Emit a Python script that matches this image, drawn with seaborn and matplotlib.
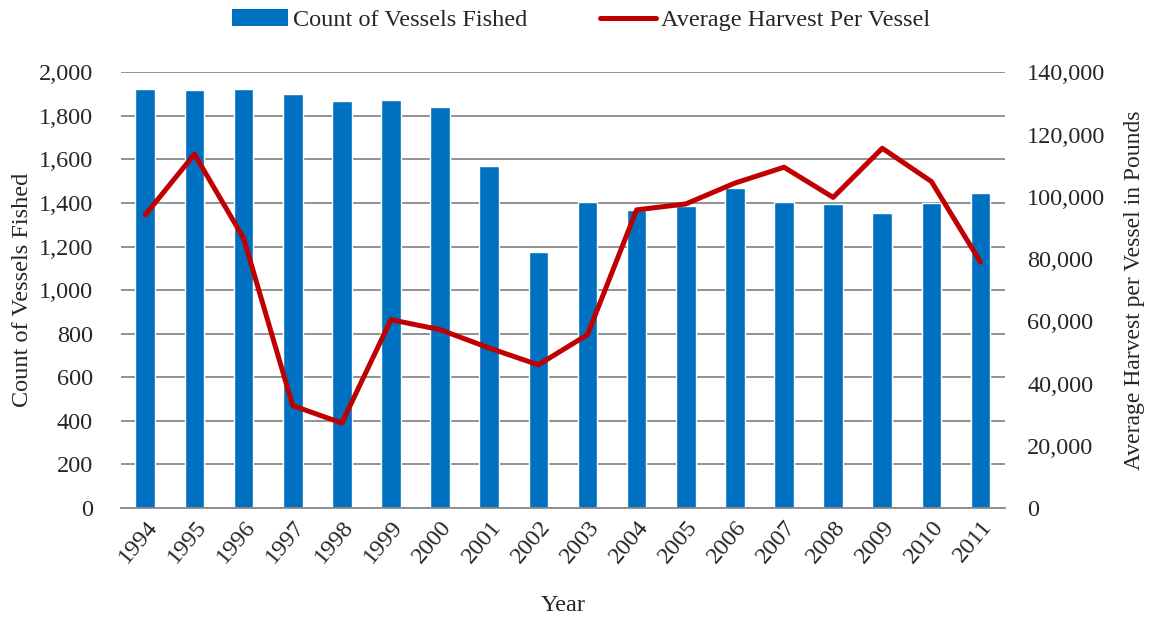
import numpy as np
import pandas as pd
import seaborn as sns
import matplotlib.pyplot as plt
from matplotlib.ticker import FuncFormatter, FixedLocator
from matplotlib.patches import Patch
from matplotlib.lines import Line2D

# data
years = [str(y) for y in range(1994, 2012)]
vessels = [1922, 1919, 1922, 1900, 1867, 1873, 1841, 1569, 1174,
           1406, 1368, 1387, 1471, 1405, 1396, 1355, 1402, 1445]
harvest = [94200, 113700, 86700, 32900, 27300, 60500, 57300, 51400, 46000,
           55700, 95800, 97700, 104400, 109500, 99800, 115600, 104900, 79000]

df = pd.DataFrame({"Year": years, "Vessels": vessels, "Harvest": harvest})

sns.set_style("white")
plt.rcParams["font.family"] = ["Liberation Serif", "DejaVu Serif"]

bar_color = "#0070C0"
line_color = "#C00000"
grid_color = "#898989"
fs = 17.5

fig = plt.figure(figsize=(11.5, 6.18), dpi=100)
ax = fig.add_axes([0.105, 0.178, 0.769, 0.705])

sns.barplot(data=df, x="Year", y="Vessels", color=bar_color, width=0.4,
            saturation=1, ax=ax, zorder=2)
ax.set_xlim(-0.5, len(years) - 0.5)
ax.set_ylim(0, 2000)
ax.set_yticks(range(0, 2001, 200))
ax.yaxis.set_major_formatter(FuncFormatter(lambda v, p: f"{int(v):,}"))
ax.grid(axis="y", color=grid_color, linewidth=1.3, zorder=0)
ax.set_axisbelow(True)

for s in ["top", "left", "right"]:
    ax.spines[s].set_visible(False)
ax.spines["bottom"].set_color(grid_color)
ax.spines["bottom"].set_linewidth(1.3)

ax.tick_params(axis="y", length=0, labelsize=fs, pad=20)
ax.tick_params(axis="x", which="major", length=0, labelsize=fs, pad=6)
ax.xaxis.set_minor_locator(FixedLocator(np.arange(-0.5, len(years), 1.0)))
ax.tick_params(axis="x", which="minor", length=6, width=1.3, color=grid_color)
plt.setp(ax.get_xticklabels(), rotation=50, ha="right", rotation_mode="anchor")

ax.set_xlabel("Year", fontsize=fs, labelpad=20)
ax.set_ylabel("Count of Vessels Fished", fontsize=fs, labelpad=4)

ax2 = ax.twinx()
sns.lineplot(x=np.arange(len(years)), y=df["Harvest"], ax=ax2,
             color=line_color, linewidth=3.6, zorder=3)
ax2.set_xlim(-0.5, len(years) - 0.5)
ax2.set_ylim(0, 140000)
ax2.set_yticks(range(0, 140001, 20000))
ax2.yaxis.set_major_formatter(FuncFormatter(lambda v, p: f"{int(v):,}"))
ax2.tick_params(axis="y", length=0, labelsize=fs, pad=16)
for s in ["top", "left", "right", "bottom"]:
    ax2.spines[s].set_visible(False)
ax2.set_ylabel("Average Harvest per Vessel in Pounds", fontsize=17, labelpad=13)

handles = [Patch(facecolor=bar_color, edgecolor="none"),
           Line2D([0], [0], color=line_color, linewidth=3.6)]
fig.legend(handles, ["Count of Vessels Fished", "Average Harvest Per Vessel"],
           loc="center", bbox_to_anchor=(0.505, 0.967), ncol=2, frameon=False,
           fontsize=fs, handlelength=2.3, handletextpad=0.2, columnspacing=3.0)

fig.savefig("out.png", dpi=100)
